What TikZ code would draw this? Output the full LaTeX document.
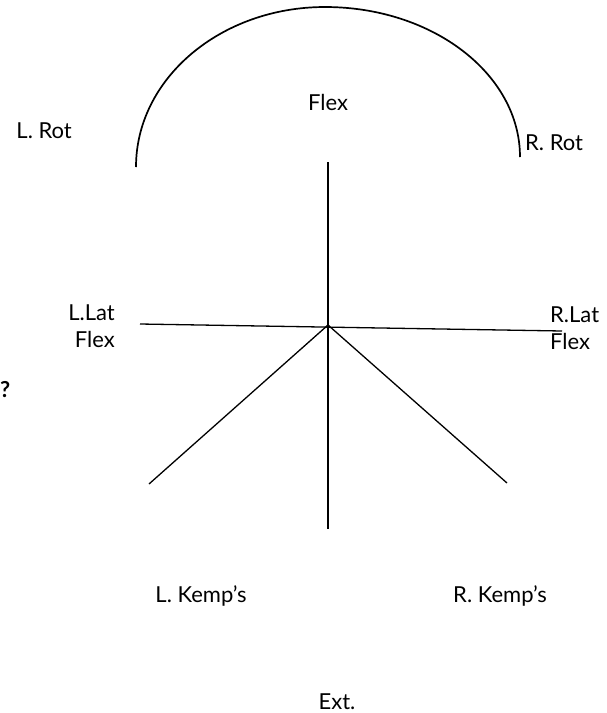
\documentclass[tikz,border=0pt]{standalone}
\usepackage{fontspec}
\setmainfont{Lato}
\begin{document}
\begin{tikzpicture}[x=1pt,y=-1pt,
  lbl/.style={inner sep=0pt,font=\fontsize{22}{27}\selectfont},
  ln/.style={line width=1.3pt},
  arcln/.style={line width=1.7pt}]
\useasboundingbox (0,0) rectangle (606,713);
% coordinates
\coordinate (c) at (328,325);
\coordinate (vt) at (328,162);
\coordinate (vb) at (328,529);
\coordinate (hl) at (140,324);
\coordinate (hr) at (562,331);
\coordinate (dl) at (149,484);
\coordinate (dr) at (507,483);
\coordinate (al) at (136,167);
% lines
\draw[ln] (vt) -- (vb);
\draw[ln] (hl) -- (hr);
\draw[ln] (c) -- (dl);
\draw[ln] (c) -- (dr);
\draw[arcln] (al) arc[start angle=180,end angle=270,x radius=189,y radius=160]
  arc[start angle=270,end angle=360,x radius=195,y radius=150];
% labels
\node[lbl,anchor=base] (flex) at (328,110) {Flex};
\node[lbl,anchor=base east] (lrot) at (72,138) {L. Rot};
\node[lbl,anchor=base west] (rrot) at (525,150) {R. Rot};
\node[lbl,align=right,anchor=east] (llat) at (115,326) {L.Lat\\Flex};
\node[lbl,align=left,anchor=west] (rlat) at (550,328) {R.Lat\\Flex};
\node[lbl,font=\fontsize{22}{27}\selectfont\bfseries,anchor=base west] (q) at (0,397) {?};
\node[lbl,anchor=base] (lkemp) at (201,602) {L. Kemp’s};
\node[lbl,anchor=base] (rkemp) at (500,602) {R. Kemp’s};
\node[lbl,anchor=base] (ext) at (337,709) {Ext.};
\end{tikzpicture}
\end{document}
